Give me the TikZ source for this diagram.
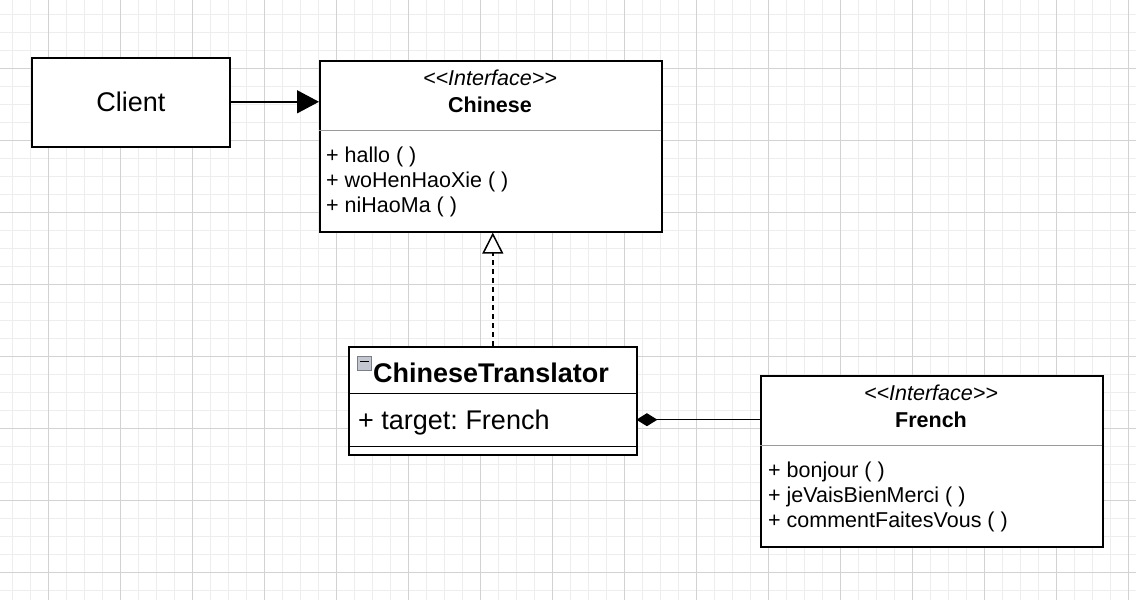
\documentclass[tikz,border=0pt]{standalone}
\usepackage{fontspec}
\setmainfont{Liberation Sans}
\usetikzlibrary{arrows.meta}
\frenchspacing
\definecolor{gridminor}{HTML}{EDEDED}
\definecolor{gridmajor}{HTML}{D2D2D2}
\definecolor{divgray}{HTML}{9A9A9A}
\definecolor{iconfill}{HTML}{C4C7CF}
\definecolor{iconedge}{HTML}{7A7E88}
\tikzset{
  umlbox/.style={draw=black, line width=1.6pt, fill=white, rectangle, inner sep=0pt, anchor=north west},
  part/.style={rectangle, inner sep=0pt, anchor=north west},
  txt/.style={inner sep=0pt, font=\fontsize{21.5}{25}\selectfont},
  bigtxt/.style={inner sep=0pt, font=\fontsize{27}{32}\selectfont},
  link/.style={line width=1.5pt, draw=black},
}
\begin{document}
\begin{tikzpicture}[x=1pt,y=-1pt]
\useasboundingbox (0,0) rectangle (1136,600);
\fill[white] (0,0) rectangle (1136,600);
% grid
\foreach \gx in {12,30,...,1136} \draw[gridminor, line width=1pt] (\gx,0) -- (\gx,600);
\foreach \gy in {14,32,...,600} \draw[gridminor, line width=1pt] (0,\gy) -- (1136,\gy);
\foreach \gx in {48,120,...,1136} \draw[gridmajor, line width=1pt] (\gx,0) -- (\gx,600);
\foreach \gy in {68,140,...,600} \draw[gridmajor, line width=1pt] (0,\gy) -- (1136,\gy);

% Client
\node[umlbox, minimum width=198pt, minimum height=89pt] (client) at (31,57) {};
\node[bigtxt, anchor=base] (clienttxt) at (131,111) {Client};

% Chinese interface
\node[umlbox, minimum width=342pt, minimum height=171pt] (chinese) at (319,60) {};
\node[part, minimum width=342pt, minimum height=70pt] (chinesehead) at (319,60) {};
\draw[divgray, line width=1.5pt] (chinesehead.south west) -- (chinesehead.south east);
\node[txt, anchor=base, font=\fontsize{21.5}{25}\selectfont\itshape] (chst) at (490,85) {<{}<Interface>{}>};
\node[txt, anchor=base, font=\fontsize{21.5}{25}\selectfont\bfseries] (chname) at (490,112.5) {Chinese};
\node[txt, anchor=base west] (cm1) at (326,162) {+ hallo ( )};
\node[txt, anchor=base west] (cm2) at (326,187) {+ woHenHaoXie ( )};
\node[txt, anchor=base west] (cm3) at (326,212) {+ niHaoMa ( )};

% ChineseTranslator class
\node[umlbox, minimum width=288pt, minimum height=108pt] (translator) at (348,346) {};
\node[part, minimum width=288pt, minimum height=47pt] (trhead) at (348,346) {};
\node[part, minimum width=288pt, minimum height=53pt] (trattr) at (348,393) {};
\draw[black, line width=1.6pt] (trhead.south west) -- (trhead.south east);
\draw[black, line width=1.6pt] (trattr.south west) -- (trattr.south east);
\node[rectangle, draw=iconedge, fill=iconfill, line width=1pt, minimum width=14pt, minimum height=14pt, inner sep=0pt, anchor=north west] (icon) at (357,356) {};
\draw[black, line width=1.2pt] ([xshift=-4.5pt,yshift=2pt]icon.center) -- ([xshift=4.5pt,yshift=2pt]icon.center);
\node[bigtxt, anchor=base west, font=\fontsize{27}{32}\selectfont\bfseries] (trname) at (373,382.5) {ChineseTranslator};
\node[bigtxt, anchor=base west] (trattrtxt) at (358,429) {+ target: French};

% French interface
\node[umlbox, minimum width=342pt, minimum height=171pt] (french) at (760,375) {};
\node[part, minimum width=342pt, minimum height=70pt] (frenchhead) at (760,375) {};
\draw[divgray, line width=1.5pt] (frenchhead.south west) -- (frenchhead.south east);
\node[txt, anchor=base, font=\fontsize{21.5}{25}\selectfont\itshape] (frst) at (931,400) {<{}<Interface>{}>};
\node[txt, anchor=base, font=\fontsize{21.5}{25}\selectfont\bfseries] (frname) at (931,427.5) {French};
\node[txt, anchor=base west] (fm1) at (768,477) {+ bonjour ( )};
\node[txt, anchor=base west] (fm2) at (768,502) {+ jeVaisBienMerci ( )};
\node[txt, anchor=base west] (fm3) at (768,527) {+ commentFaitesVous ( )};

% connectors
\draw[link, -{Triangle[length=22pt,width=23pt]}] ([yshift=0.5pt]client.east) -- ([yshift=0.5pt]client.east -| chinese.west);
\draw[link, dash pattern=on 5pt off 4pt, -{Triangle[open,length=21pt,width=21pt,fill=white]}] (translator.north) -- (translator.north |- chinese.south);
\draw[link, {Diamond[length=21pt,width=13pt]}-] (trattr.east) -- (trattr.east -| french.west);
\end{tikzpicture}
\end{document}
